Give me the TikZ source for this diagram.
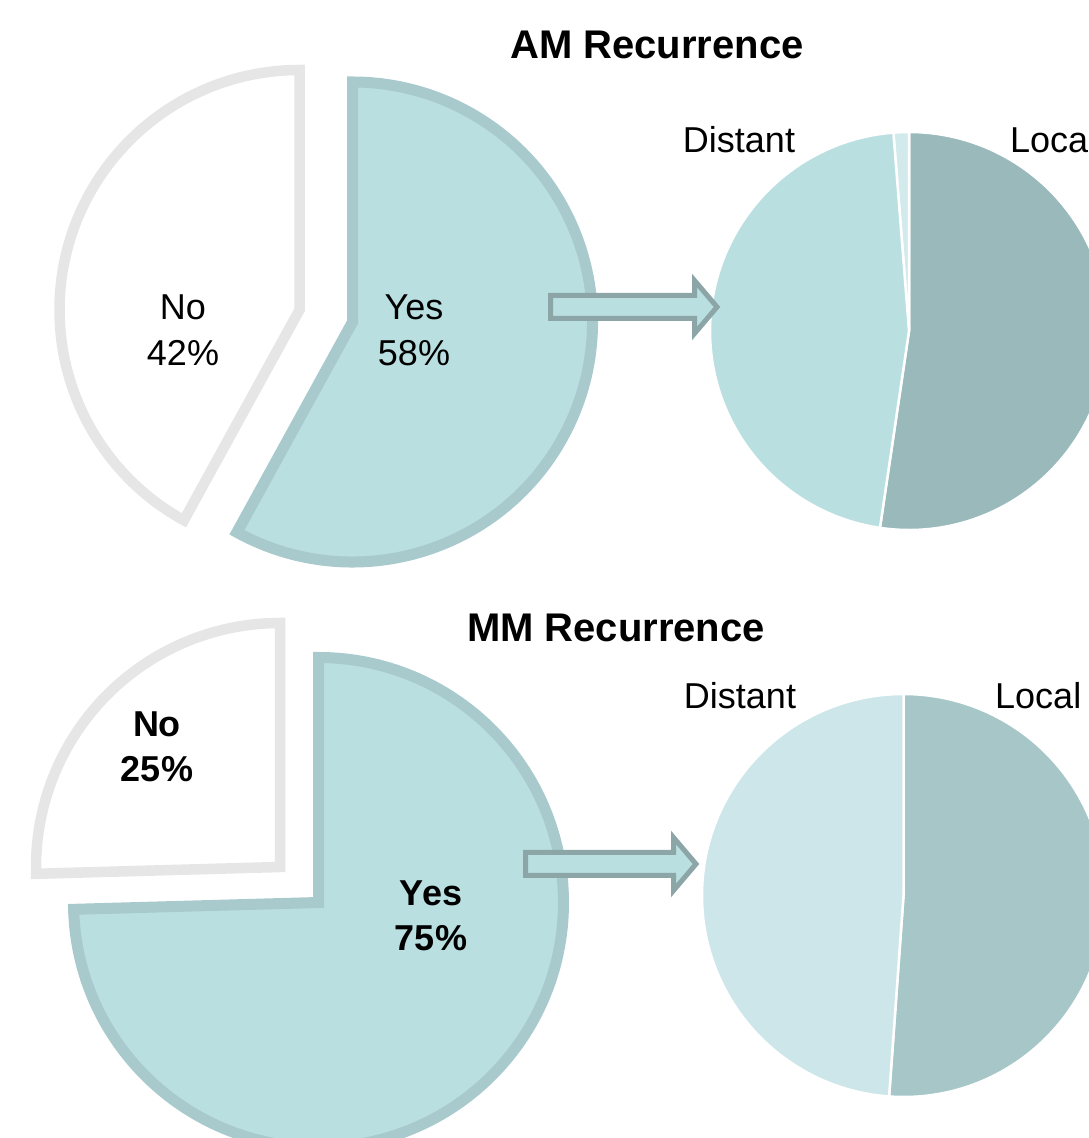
\documentclass[tikz,border=0pt]{standalone}
\usepackage{fontspec}
\setmainfont{Liberation Sans}
\usetikzlibrary{positioning}
\definecolor{yesFill}{HTML}{B9DFE1}
\definecolor{yesEdge}{HTML}{A8CACD}
\definecolor{noEdge}{HTML}{E6E6E6}
\definecolor{arrowEdge}{HTML}{8CA6A8}
\definecolor{localAM}{HTML}{9AB9BB}
\definecolor{distAM}{HTML}{B9DFE1}
\definecolor{otherAM}{HTML}{D3EAED}
\definecolor{localMM}{HTML}{A6C6C8}
\definecolor{distMM}{HTML}{CDE6EA}
\tikzset{
    lbl/.style={inner sep=0pt, font=\fontsize{36}{46}\selectfont},
    lblbold/.style={inner sep=0pt, align=center, font=\fontsize{36}{45}\selectfont\bfseries},
    charttitle/.style={inner sep=0pt, anchor=base, font=\fontsize{40}{48}\selectfont\bfseries},
    yesslice/.style={fill=yesFill, draw=yesEdge, line width=11pt, line join=miter},
    noslice/.style={fill=white, draw=noEdge, line width=10.5pt, line join=miter},
    subslice/.style={draw=white, line width=2.5pt},
    blockarrow/.style={fill=yesFill, draw=arrowEdge, line width=5pt, line join=miter}
}

\begin{document}
\begin{tikzpicture}[x=1pt, y=1pt]
    \useasboundingbox (0,0) rectangle (1089,1138);
    \clip (0,0) rectangle (1089,1138);

    % --- AM: exploded pie ---
    \coordinate (amNoC) at (299.5,828);
    \coordinate (amYesC) at (352.5,816);
    \draw[noslice] (amNoC) -- +(90:240) arc[start angle=90, end angle=241.2, radius=240] -- cycle;
    \draw[yesslice] (amYesC) -- +(241.2:240) arc[start angle=241.2, end angle=450, radius=240] -- cycle;
    \node[lbl, align=center] (amNo) at (183,807.7) {No\\42\%};
    \node[lbl, align=center] (amYes) at (414,807.7) {Yes\\58\%};

    % --- AM: site of recurrence ---
    \coordinate (amSiteC) at (909,807);
    \filldraw[subslice, fill=localAM] (amSiteC) -- +(-98.4:199) arc[start angle=-98.4, end angle=90, radius=199] -- cycle;
    \filldraw[subslice, fill=otherAM] (amSiteC) -- +(90:199) arc[start angle=90, end angle=94.5, radius=199] -- cycle;
    \filldraw[subslice, fill=distAM] (amSiteC) -- +(94.5:199) arc[start angle=94.5, end angle=261.6, radius=199] -- cycle;
    \node[lbl, anchor=base] (amDistant) at (739,985) {Distant};
    \node[lbl, anchor=base west] (amLocal) at (1010,985) {Local};
    \node[charttitle] (amTitle) at (657,1079) {AM Recurrence};

    \draw[blockarrow] (550.5,842.5) -- (694.5,842.5) -- (694.5,857.5) -- (717,831)
        -- (694.5,804.5) -- (694.5,819.5) -- (550.5,819.5) -- cycle;

    % --- MM: exploded pie ---
    \coordinate (mmNoC) at (280,271);
    \coordinate (mmYesC) at (318.5,235.5);
    \draw[noslice] (mmNoC) -- +(90:244) arc[start angle=90, end angle=181.6, radius=244] -- cycle;
    \draw[yesslice] (mmYesC) -- +(181.6:245) arc[start angle=181.6, end angle=450, radius=245] -- cycle;
    \node[lblbold] (mmNo) at (157,391.4) {No\\25\%};
    \node[lblbold] (mmYes) at (431,222.4) {Yes\\75\%};

    % --- MM: site of recurrence ---
    \coordinate (mmSiteC) at (903.5,242.5);
    \filldraw[subslice, fill=localMM] (mmSiteC) -- +(-94.1:201.5) arc[start angle=-94.1, end angle=90, radius=201.5] -- cycle;
    \filldraw[subslice, fill=distMM] (mmSiteC) -- +(90:201.5) arc[start angle=90, end angle=265.9, radius=201.5] -- cycle;
    \node[lbl, anchor=base] (mmDistant) at (740,429) {Distant};
    \node[lbl, anchor=base west] (mmLocal) at (995,429) {Local};
    \node[charttitle] (mmTitle) at (616,496) {MM Recurrence};

    \draw[blockarrow] (525.5,285.5) -- (673.5,285.5) -- (673.5,300.5) -- (696,274)
        -- (673.5,247.5) -- (673.5,262.5) -- (525.5,262.5) -- cycle;
\end{tikzpicture}
\end{document}
